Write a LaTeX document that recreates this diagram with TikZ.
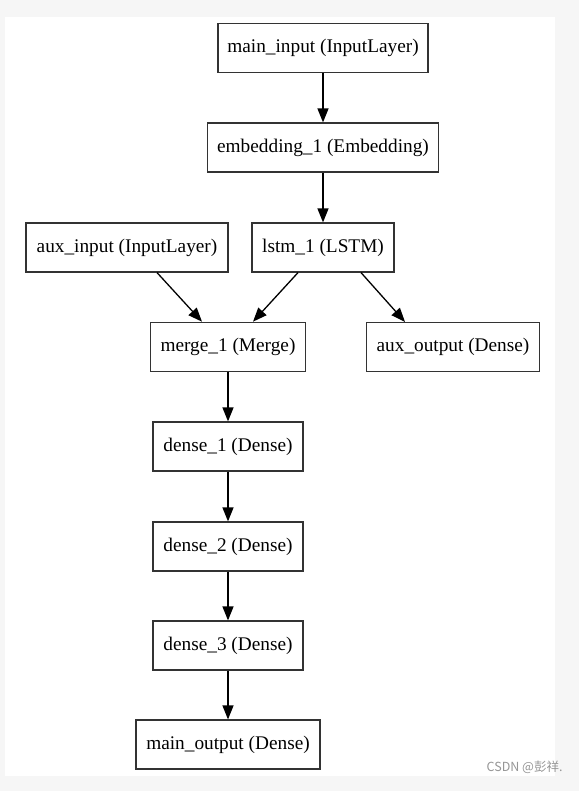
\documentclass[tikz,border=0pt]{standalone}
\usepackage{fontspec}
\setmainfont{Liberation Serif}
\newfontfamily\cjk{Noto Sans CJK SC}
\usetikzlibrary{positioning, calc, arrows.meta}
\definecolor{bggray}{RGB}{246,246,246}
\definecolor{boxline}{RGB}{51,51,51}
\definecolor{wmgray}{RGB}{150,150,150}
\begin{document}
\begin{tikzpicture}[x=1pt,y=-1pt,
    layer/.style={draw=boxline,line width=1.2pt,minimum height=49pt,inner sep=0pt,
      font=\fontsize{19.3}{22}\selectfont},
    flow/.style={-{Triangle[length=14pt,width=11pt]},line width=1.3pt}]
  \fill[bggray](0,0)rectangle(579,791);%外枠
  \fill[white](5,17)rectangle(555,776);
  \useasboundingbox (0,0) rectangle (579,791);
  \node[layer,minimum width=210pt](maininput) at (323,47.8){main\_input (InputLayer)};
  \node[layer,minimum width=231pt](embed) at (323,147.5){embedding\_1 (Embedding)};
  \node[layer,minimum width=202pt](auxin) at (127,247.5){aux\_input (InputLayer)};
  \node[layer,minimum width=142pt](lstm) at (323,247.5){lstm\_1 (LSTM)};
  \node[layer,minimum width=155pt](merge) at (228,346.8){merge\_1 (Merge)};
  \node[layer,minimum width=173pt](auxout) at (453,347){aux\_output (Dense)};
  \node[layer,minimum width=150pt](dense1) at (228,446.5){dense\_1 (Dense)};
  \node[layer,minimum width=150pt](dense2) at (228,546.5){dense\_2 (Dense)};
  \node[layer,minimum width=150pt](dense3) at (228,645.5){dense\_3 (Dense)};
  \node[layer,minimum width=184pt](mainout) at (228,744.5){main\_output (Dense)};
  \draw[flow](maininput)--(embed);
  \draw[flow](embed)--(lstm);
  \draw[flow]([xshift=30pt]auxin.south)--([xshift=-26pt]merge.north);%分岐
  \draw[flow]([xshift=-25pt]lstm.south)--([xshift=25pt]merge.north);
  \draw[flow]([xshift=38pt]lstm.south)--([xshift=-48pt]auxout.north);
  \draw[flow](merge)--(dense1);
  \draw[flow](dense1)--(dense2);
  \draw[flow](dense2)--(dense3);
  \draw[flow](dense3)--(mainout);
  \node[text=wmgray,font=\cjk\fontsize{12.5}{14}\selectfont,anchor=east](wm) at (566,767){CSDN @彭祥.};
\end{tikzpicture}
\end{document}
